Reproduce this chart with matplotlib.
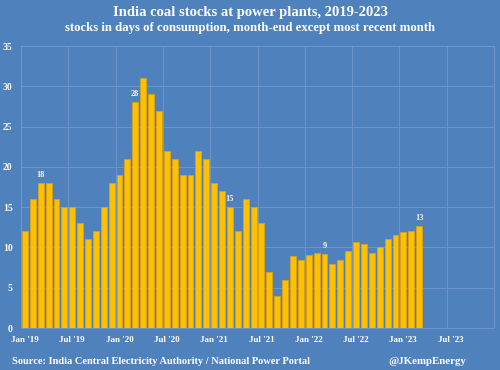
import matplotlib
matplotlib.use("Agg")
import matplotlib.pyplot as plt
import numpy as np

# Monthly data, Jan 2019 .. Mar 2023 (days of consumption)
months = [f"{m} {y}" for y in range(2019, 2024) for m in
          ["Jan", "Feb", "Mar", "Apr", "May", "Jun", "Jul", "Aug", "Sep", "Oct", "Nov", "Dec"]]
stocks = [12, 16, 18, 18, 16, 15, 15, 13, 11, 12, 15, 18,
          19, 21, 28, 31, 29, 27, 22, 21, 19, 19, 22, 21,
          18, 17, 15, 12, 16, 15, 13, 7, 4, 6, 8.9, 8.4,
          9.1, 9.3, 9.2, 7.9, 8.5, 9.6, 10.7, 10.4, 9.3, 10.1, 11.0, 11.5,
          11.9, 12.0, 12.7]
labelled_months = ["Mar 2019", "Mar 2020", "Mar 2021", "Mar 2022", "Mar 2023"]
tick_labels = ["Jan '19", "Jul '19", "Jan '20", "Jul '20", "Jan '21", "Jul '21",
               "Jan '22", "Jul '22", "Jan '23", "Jul '23"]
yticks = [0, 5, 10, 15, 20, 25, 30, 35]

BG = "#4F81BD"
BAR = "#FFC000"
EDGE = "#D9A21B"
GRID = "#7398CC"
SERIF = ["Liberation Serif", "DejaVu Serif"]

plt.rcParams["font.family"] = SERIF

fig = plt.figure(figsize=(5, 3.7), dpi=100, facecolor=BG)
ax = fig.add_axes([0.042, 0.1135, 0.946, 0.762])
ax.set_facecolor(BG)

x = np.arange(len(stocks))
bars = ax.bar(x, stocks, width=0.75, color=BAR, edgecolor=EDGE, linewidth=0.6, zorder=3)

labels = [f"{v:.0f}" if months[i] in labelled_months else "" for i, v in enumerate(stocks)]
ax.bar_label(bars, labels=labels, padding=3, color="#F2F2F2", fontsize=6,
             fontweight="bold")

ax.set_xlim(-0.5, len(months) - 0.5)
ax.set_ylim(0, 35)
ax.set_yticks(yticks)
ax.set_yticklabels([str(t) for t in yticks])
ax.set_xticks(np.arange(0, len(months), 6))
ax.set_xticklabels(tick_labels)
ax.set_xticks(np.arange(0, len(months) + 1, 6) - 0.5, minor=True)

ax.grid(axis="y", which="major", color=GRID, linewidth=0.6, zorder=0)
ax.grid(axis="x", which="minor", color=GRID, linewidth=0.6, zorder=0)
ax.tick_params(axis="both", which="both", length=0, colors="white")
ax.tick_params(axis="y", pad=6, labelsize=7)
ax.tick_params(axis="x", pad=6, labelsize=6.5)
for lbl in ax.get_xticklabels() + ax.get_yticklabels():
    lbl.set_fontweight("bold")
for s in ["top", "right", "left", "bottom"]:
    ax.spines[s].set_color(GRID)
    ax.spines[s].set_linewidth(0.6)

fig.text(0.5, 0.966, "India coal stocks at power plants, 2019-2023", ha="center", va="center",
         color="white", fontsize=10.5, fontweight="bold")
fig.text(0.5, 0.924, "stocks in days of consumption, month-end except most recent month",
         ha="center", va="center", color="white", fontsize=9.2, fontweight="bold")
fig.text(0.024, 0.022, "Source: India Central Electricity Authority / National Power Portal",
         ha="left", va="center", color="white", fontsize=7.5, fontweight="bold")
fig.text(0.932, 0.022, "@JKempEnergy", ha="right", va="center", color="white",
         fontsize=7.8, fontweight="bold")

fig.savefig("out.png", dpi=100, facecolor=BG)
